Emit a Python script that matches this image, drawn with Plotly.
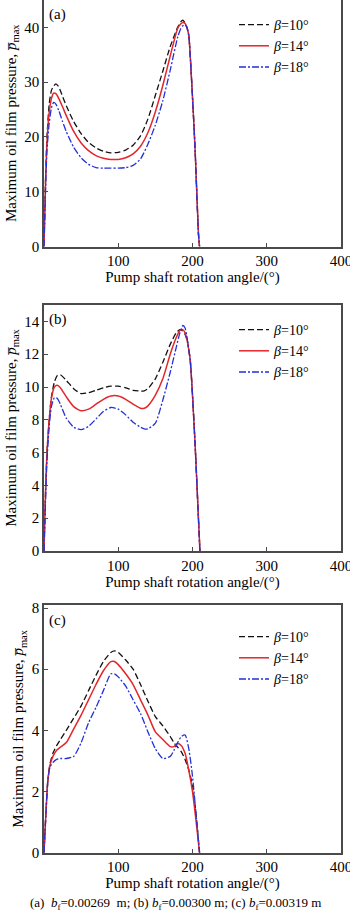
import plotly.graph_objects as go

# ---------------- data ----------------
A_ANGLE = [0, 2, 4, 7, 10, 13, 16, 20, 25, 30, 40, 50, 60, 70, 80, 90, 100, 110, 120, 130,
           140, 150, 160, 170, 180, 184, 187, 190, 192.5, 195, 199, 203.5, 208, 209.5]
A_B10 = [0, 12, 20, 26, 28.5, 29.3, 29.7, 29.1, 27.4, 25.7, 22.8, 20.6, 19.0, 18.0, 17.4, 17.1, 17.2, 17.6, 18.5, 20.2,
         23.3, 27.6, 32.0, 36.5, 40.0, 41.0, 41.3, 40.8, 40.0, 38.5, 29.8, 17.7, 2.4, 0]
A_B14 = [0, 11, 19, 24.5, 27.0, 28.0, 27.9, 27.0, 25.5, 23.9, 21.0, 18.9, 17.5, 16.6, 16.1, 15.9, 15.9, 16.2, 16.9, 18.3,
         20.8, 24.6, 29.4, 34.8, 39.8, 40.6, 40.9, 40.7, 40.0, 38.5, 29.8, 17.7, 2.4, 0]
A_B18 = [0, 10, 17.5, 22.5, 25.3, 26.3, 26.0, 24.8, 22.8, 21.0, 18.1, 16.2, 15.0, 14.4, 14.3, 14.3, 14.3, 14.4, 14.8, 16.0,
         18.7, 22.2, 26.6, 32.2, 38.2, 39.7, 40.3, 40.5, 40.0, 38.5, 29.8, 17.7, 2.4, 0]

B_ANGLE = [0, 2, 4, 7, 10, 14, 18, 22, 30, 40, 50, 60, 70, 80, 90, 100, 110, 120, 130, 135,
           140, 150, 160, 170, 178, 183, 187, 190, 193, 197, 203.5, 208, 210]
B_B10 = [0, 3.5, 6.0, 8.0, 9.4, 10.3, 10.7, 10.75, 10.4, 9.9, 9.6, 9.65, 9.8, 9.95, 10.05, 10.05, 9.95, 9.8, 9.75, 9.77,
         9.9, 10.5, 11.5, 12.6, 13.3, 13.5, 13.4, 13.2, 12.8, 11.6, 6.5, 2.0, 0]
B_B14 = [0, 3.5, 6.0, 8.0, 9.3, 10.0, 10.1, 9.95, 9.4, 8.8, 8.55, 8.65, 8.95, 9.25, 9.45, 9.45, 9.25, 8.95, 8.7, 8.7,
         8.85, 9.5, 10.5, 12.0, 13.0, 13.45, 13.5, 13.3, 12.8, 11.6, 6.5, 2.0, 0]
B_B18 = [0, 3.0, 5.5, 7.6, 8.8, 9.35, 9.3, 8.95, 8.1, 7.55, 7.4, 7.6, 8.05, 8.5, 8.75, 8.65, 8.3, 7.85, 7.55, 7.45,
         7.45, 7.8, 9.2, 10.9, 12.4, 13.3, 13.75, 13.6, 12.9, 11.6, 6.5, 2.0, 0]

C_ANGLE = [0, 2, 5, 8, 12, 17, 22, 30, 40, 50, 60, 70, 80, 90, 95, 100, 110, 120, 130, 140,
           150, 160, 170, 175, 180, 185, 190, 195, 200, 205, 209.5]
C_B10 = [0, 1.0, 2.3, 2.9, 3.25, 3.5, 3.7, 4.0, 4.4, 4.8, 5.3, 5.8, 6.25, 6.55, 6.6, 6.55, 6.3, 6.0, 5.5, 4.95,
         4.45, 4.15, 3.8, 3.6, 3.45, 3.3, 3.05, 2.7, 2.2, 1.2, 0]
C_B14 = [0, 1.0, 2.3, 2.85, 3.15, 3.35, 3.45, 3.6, 4.05, 4.5, 5.0, 5.5, 5.95, 6.25, 6.25, 6.15, 5.85, 5.5, 5.0, 4.5,
         3.95, 3.7, 3.47, 3.47, 3.57, 3.5, 3.25, 2.7, 2.0, 1.0, 0]
C_B18 = [0, 1.0, 2.3, 2.8, 2.95, 3.05, 3.08, 3.08, 3.15, 3.6, 4.25, 4.75, 5.3, 5.85, 5.85, 5.75, 5.45, 5.0, 4.55, 3.95,
         3.4, 3.08, 3.15, 3.35, 3.6, 3.8, 3.85, 3.4, 2.5, 1.2, 0]

SERIES_NAMES = ["<i>β</i>=10°", "<i>β</i>=14°", "<i>β</i>=18°"]
PANEL_LABELS = ["(a)", "(b)", "(c)"]
X_TICKS = [100, 200, 300, 400]
A_TICKS = [0, 10, 20, 30, 40]
B_TICKS = [0, 2, 4, 6, 8, 10, 12, 14]
C_TICKS = [0, 2, 4, 6, 8]
X_TITLE = "Pump shaft rotation angle/(°)"
Y_TITLE = "Maximum oil film pressure, <i>p\u0305</i><sub>max</sub>"
CAPTION = ("(a)\u00a0\u00a0<i>b</i><sub>f</sub>=0.00269\u00a0\u00a0m;\u00a0(b)\u00a0<i>b</i><sub>f</sub>=0.00300\u00a0m;"
           "\u00a0(c)\u00a0<i>b</i><sub>f</sub>=0.00319\u00a0m")

# ---------------- styling ----------------
W, H = 350, 913
FONT = "Times New Roman, Liberation Serif, serif"
AXC = "#4a4a4a"
STYLES = [dict(color="#111111", dash="6px,3px", width=1.3),
          dict(color="#e3262b", dash="solid", width=1.5),
          dict(color="#2330d6", dash="7px,2px,2px,2px", width=1.3)]


def py(p):
    return 1 - p / H


panels = [
    dict(x=A_ANGLE, ys=[A_B10, A_B14, A_B18], rng=[0, 45], ticks=A_TICKS, top=0.0, bot=246.5, lab=14),
    dict(x=B_ANGLE, ys=[B_B10, B_B14, B_B18], rng=[0, 15], ticks=B_TICKS, top=305.0, bot=551.0, lab=319),
    dict(x=C_ANGLE, ys=[C_B10, C_B14, C_B18], rng=[0, 8.1], ticks=C_TICKS, top=605.0, bot=852.7, lab=620),
]
LEGEND_TOPS = [9, 314, 621]

fig = go.Figure()
layout = dict(width=W, height=H, margin=dict(l=0, r=0, t=0, b=0),
              paper_bgcolor="white", plot_bgcolor="white",
              font=dict(family=FONT, size=15, color="black"), showlegend=True)
annotations = []

for i, p in enumerate(panels):
    k = "" if i == 0 else str(i + 1)
    leg = "legend" + k
    for j in range(3):
        fig.add_trace(go.Scatter(
            x=p["x"], y=p["ys"][j], mode="lines", name=SERIES_NAMES[j],
            line=dict(color=STYLES[j]["color"], dash=STYLES[j]["dash"], width=STYLES[j]["width"],
                      shape="spline", smoothing=0.6),
            xaxis="x" + k, yaxis="y" + k, legend=leg))
    axcommon = dict(showline=True, linecolor=AXC, linewidth=1.5, mirror=True, ticks="inside",
                    ticklen=4, tickcolor=AXC, tickwidth=1.2, showgrid=False, zeroline=False,
                    automargin=False, ticklabeloverflow="allow",
                    tickfont=dict(family=FONT, size=15, color="black"))
    layout["xaxis" + k] = dict(axcommon, range=[0, 400], tickvals=X_TICKS, domain=[44 / W, 341 / W],
                               anchor="y" + k,
                               title=dict(text=X_TITLE, font=dict(family=FONT, size=15), standoff=2))
    layout["yaxis" + k] = dict(axcommon, range=p["rng"], tickvals=p["ticks"],
                               domain=[py(p["bot"]), py(p["top"])], anchor="x" + k,
                               title=dict(text=Y_TITLE, font=dict(family=FONT, size=15), standoff=4))
    layout[leg] = dict(x=234 / W, y=py(LEGEND_TOPS[i]), xanchor="left", yanchor="top",
                       bgcolor="rgba(0,0,0,0)", borderwidth=0,
                       font=dict(family=FONT, size=14, color="black"), tracegroupgap=0)
    annotations.append(dict(text=PANEL_LABELS[i], x=47 / W, y=py(p["lab"]),
                            xref="paper", yref="paper", xanchor="left", yanchor="middle",
                            showarrow=False, font=dict(family=FONT, size=15, color="black")))

annotations.append(dict(text=CAPTION, x=0.5, y=py(903), xref="paper", yref="paper",
                        xanchor="center", yanchor="middle", showarrow=False,
                        font=dict(family=FONT, size=13, color="black")))
layout["annotations"] = annotations
fig.update_layout(**layout)
fig.write_html("out.html")
